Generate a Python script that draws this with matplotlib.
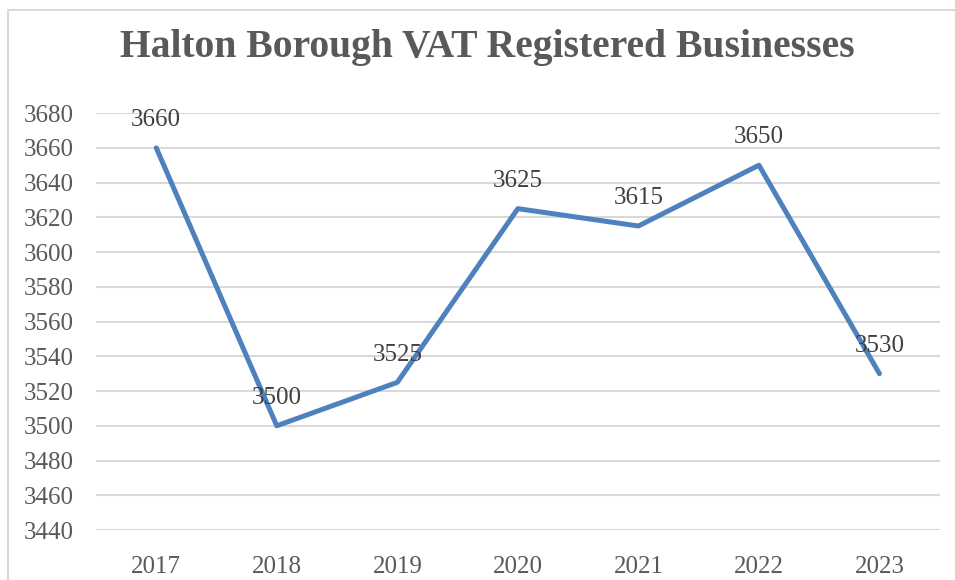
import matplotlib.pyplot as plt
from matplotlib.patches import Rectangle

years = ['2017', '2018', '2019', '2020', '2021', '2022', '2023']
businesses = [3660, 3500, 3525, 3625, 3615, 3650, 3530]
y_ticks = list(range(3440, 3681, 20))

plt.rcParams['font.family'] = ['Liberation Serif', 'DejaVu Serif']

fig = plt.figure(figsize=(9.55, 5.8), dpi=100)
ax = fig.add_axes([0.1005, 0.0862, 0.8835, 0.7188])

# chart frame (cropped on right / bottom in the original)
fig.patches.append(Rectangle((8 / 955, -0.1), 1.2, 1 - 10 / 580 + 0.1,
                             transform=fig.transFigure, fill=False,
                             edgecolor='#d9d9d9', linewidth=1.5))

x = range(len(years))
ax.plot(x, businesses, color='#4f81bd', linewidth=3.6, solid_capstyle='round',
        solid_joinstyle='round', zorder=3)

for xi, v in zip(x, businesses):
    ax.annotate(str(v), (xi, v), xytext=(0, 20), textcoords='offset points',
                ha='center', va='center', fontsize=18, color='#404040')

ax.set_xlim(-0.5, len(years) - 0.5)
ax.set_ylim(3440, 3680)
ax.set_yticks(y_ticks)
ax.set_xticks(list(x))
ax.set_xticklabels(years)
ax.grid(axis='y', color='#d9d9d9', linewidth=1.5)
ax.set_axisbelow(True)
for s in ax.spines.values():
    s.set_visible(False)
ax.tick_params(length=0, labelsize=18, labelcolor='#595959')
ax.tick_params(axis='y', pad=16)
ax.tick_params(axis='x', pad=19)

fig.text(0.51, 0.918, 'Halton Borough VAT Registered Businesses', ha='center',
         va='center', fontsize=28.5, fontweight='bold', color='#595959')

plt.savefig('out.png', dpi=100)
